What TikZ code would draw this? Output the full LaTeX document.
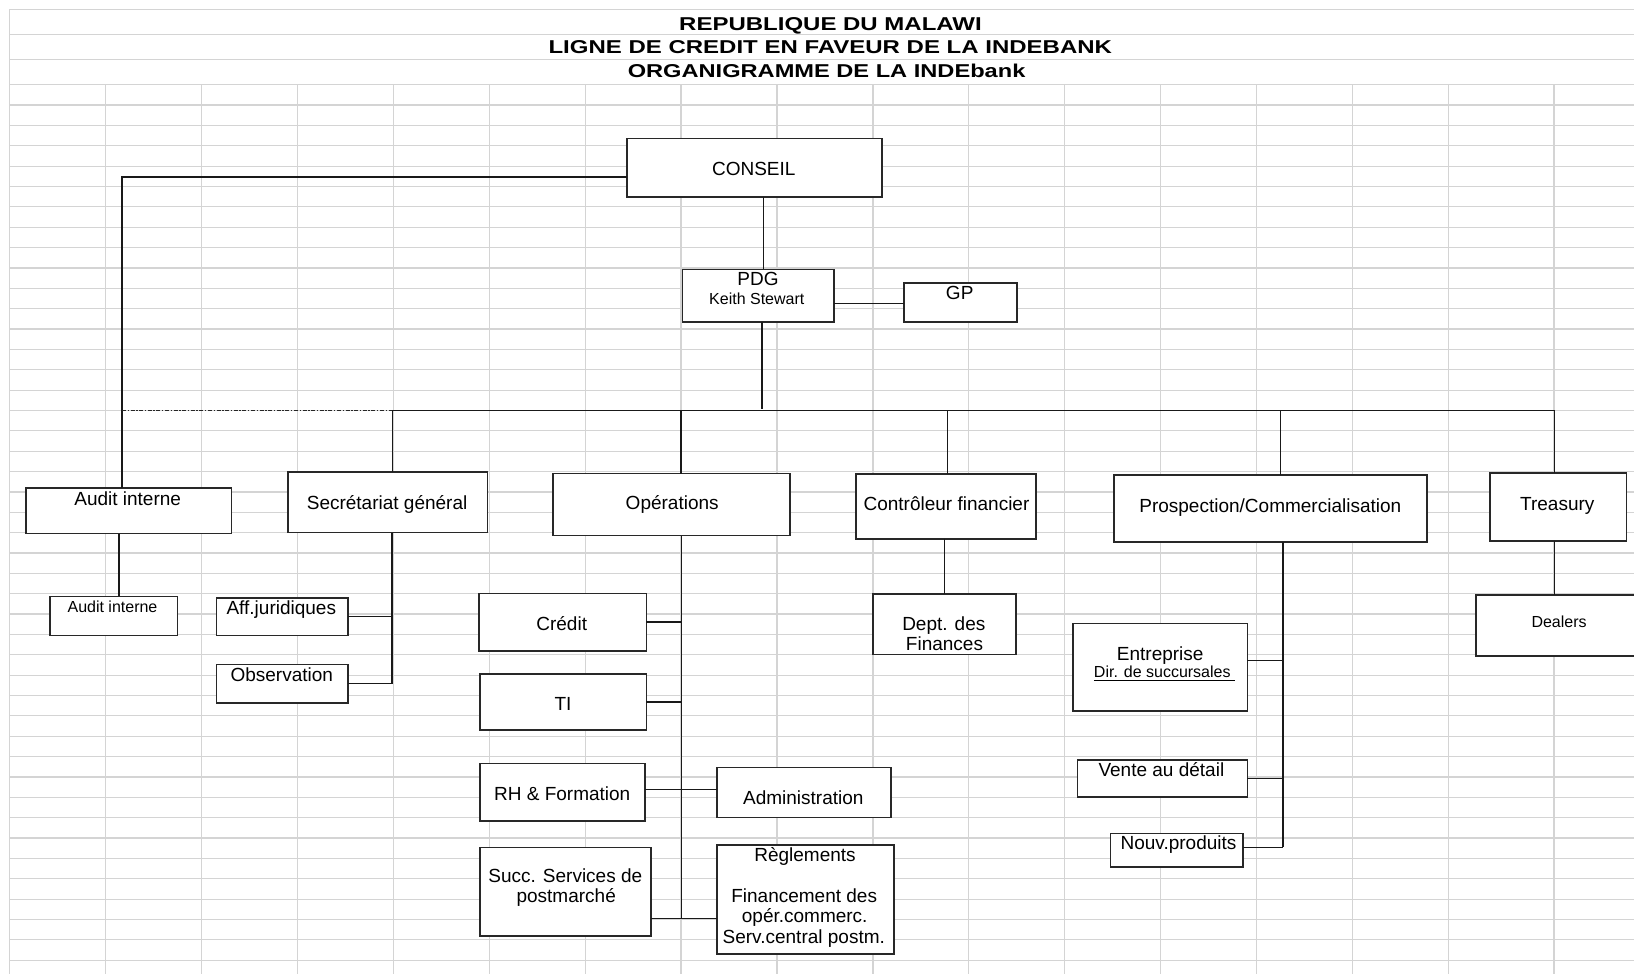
\documentclass[tikz,border=0pt]{standalone}
\usepackage{fontspec}
\usepackage{graphicx}
\setmainfont{Liberation Sans}
\definecolor{gridc}{RGB}{212,212,212}
\definecolor{boxc}{RGB}{40,40,40}
\newcommand\obx[5]{\node[obox, anchor=north west, minimum width={(#4-(#2))*0.5pt}, minimum height={(#5-(#3))*0.5pt}] (#1) at (#2,#3) {};}
\begin{document}
\begin{tikzpicture}[x=0.5pt,y=-0.5pt,
  gridline/.style={draw=gridc, line width=0.6pt},
  obox/.style={rectangle, draw=boxc, fill=white, line width=0.8pt, inner sep=0pt, outer sep=0pt},
  conn/.style={draw=black!90, line width=0.7pt},
  dashdotline/.style={draw=black!85, line width=0.65pt, dash pattern=on 2pt off 0.8pt on 0.7pt off 0.8pt},
  t/.style={inner sep=0pt, anchor=base, font=\fontsize{9.5}{11}\selectfont},
  ts/.style={inner sep=0pt, anchor=base, font=\fontsize{8}{9.5}\selectfont},
  ttl/.style={inner sep=0pt, anchor=base, font=\fontsize{9.3}{11}\selectfont\bfseries},
]
\useasboundingbox (0,0) rectangle (1634,974);
\fill[white] (0,0) rectangle (1634,974);
% ---- spreadsheet grid ----
\draw[gridline] (9.3,9.3) -- (1634,9.3);
\draw[gridline] (9.3,34.3) -- (1634,34.3);
\draw[gridline] (9.3,59.5) -- (1634,59.5);
\draw[gridline] (9.3,9.3) -- (9.3,974);
\foreach \k in {0,...,43} {\draw[gridline] (9.3,{84.7+\k*20.36}) -- (1634,{84.7+\k*20.36});}
\foreach \j in {0,...,14} {\draw[gridline] ({105.5+\j*95.93},84.7) -- ({105.5+\j*95.93},974);}
\draw[gridline] (1554,84.7) -- (1554,974);
% ---- title ----
\node[ttl] (title1) at (830.5,30.2) {\scalebox{1.29}[1]{REPUBLIQUE DU MALAWI}};
\node[ttl] (title2) at (830.3,53.2) {\scalebox{1.29}[1]{LIGNE DE CREDIT EN FAVEUR DE LA INDEBANK}};
\node[ttl] (title3) at (826.6,77.8) {\scalebox{1.27}[1]{ORGANIGRAMME DE LA INDEbank}};
% ---- boxes ----
\obx{conseil}{626.7}{138.7}{881.7}{197.3}
\obx{pdg}{682.3}{269.3}{833.7}{321.7}
\obx{gp}{903.7}{282.7}{1016.7}{321.7}
\obx{audit}{26.1}{487.9}{231.4}{533.6}
\obx{auditc}{50}{596.4}{177.5}{635.4}
\obx{sec}{288.2}{472.1}{487.5}{532.5}
\obx{aff}{216.4}{597.9}{348.2}{635.4}
\obx{obs}{216.4}{664.3}{348.2}{702.9}
\obx{ops}{553}{473.5}{790}{535.5}
\obx{credit}{478.7}{593.3}{646.3}{650.7}
\obx{ti}{480}{673.7}{646.3}{730}
\obx{rh}{480}{763.3}{645}{821}
\obx{admin}{716.7}{767.3}{890.7}{817.3}
\obx{succ}{480}{847.3}{651}{936}
\obx{regl}{716.7}{845}{894}{954}
\obx{ctrl}{856}{473.7}{1036}{538.7}
\obx{dept}{872.7}{593.7}{1016}{654.3}
\obx{prosp}{1113.7}{475}{1426.9}{542}
\obx{entr}{1073.1}{623.3}{1247.4}{711}
\obx{vente}{1077.6}{760}{1247.4}{797}
\obx{nouv}{1110.3}{833.3}{1242.9}{866.7}
\obx{treas}{1489.8}{472.7}{1626.5}{540.7}
\obx{deal}{1476}{594.7}{1645}{656}
% ---- connectors ----
\coordinate (lc) at (122,177);
\draw[conn] (lc -| conseil.west) -- (lc) -- (lc |- audit.north);
\coordinate (v1) at (763.3,0);
\draw[conn] (v1 |- conseil.south) -- (v1 |- pdg.north);
\coordinate (h1) at (0,303.7);
\draw[conn] (h1 -| pdg.east) -- (h1 -| gp.west);
\coordinate (v2) at (762,408.5);
\draw[conn] (v2 |- pdg.south) -- (v2);
\coordinate (busL) at (122,410.7);
\coordinate (busS) at (392.3,410.7);
\coordinate (busR) at (1554.7,410.7);
\draw[dashdotline] (busL) -- (busS);
\draw[conn] (busS) -- (busR);
\draw[conn] (busS) -- (busS |- sec.north);
\coordinate (bo) at (681,410.7);
\draw[conn] (bo) -- (bo |- ops.north);
\coordinate (bc) at (947.3,410.7);
\draw[conn] (bc) -- (bc |- ctrl.north);
\coordinate (bp) at (1280.2,410.7);
\draw[conn] (bp) -- (bp |- prosp.north);
\draw[conn] (busR) -- (busR |- treas.north);
\draw[conn] (busR |- treas.south) -- (busR |- deal.north);
\coordinate (va) at (118.9,0);
\draw[conn] (va |- audit.south) -- (va |- auditc.north);
\coordinate (vs) at (391.8,0);
\draw[conn] (vs |- sec.south) -- (vs |- obs.east);
\draw[conn] (aff.east) -- (aff.east -| vs);
\draw[conn] (obs.east) -- (obs.east -| vs);
\coordinate (vo) at (681.7,918.3);
\draw[conn] (vo |- ops.south) -- (vo);
\draw[conn] (credit.east) -- (credit.east -| vo);
\draw[conn] (ti.east) -- (ti.east -| vo);
\coordinate (hr) at (0,789.7);
\draw[conn] (hr -| rh.east) -- (hr -| admin.west);
\draw[conn] (vo -| succ.east) -- (vo -| regl.west);
\coordinate (vc) at (944.3,0);
\draw[conn] (vc |- ctrl.south) -- (vc |- dept.north);
\coordinate (vp) at (1283.1,847.3);
\draw[conn] (vp |- prosp.south) -- (vp);
\coordinate (he) at (0,660.3);
\draw[conn] (he -| entr.east) -- (he -| vp);
\draw[conn] (vente.east) -- (vente.east -| vp);
\draw[conn] (vp -| nouv.east) -- (vp);
% ---- texts ----
\node[t] (t-conseil) at (753.8,176) {CONSEIL};
\node[t] (t-pdg) at (758,285.7) {PDG};
\node[ts] (t-keith) at (756.8,304) {Keith Stewart};
\node[t] (t-gp) at (959.7,299) {GP};
\node[t] (t-audit) at (127.7,505) {Audit interne};
\node[ts] (t-auditc) at (112.5,612.9) {Audit interne};
\node[t] (t-sec) at (387.1,509.3) {Secrétariat général};
\node[t] (t-aff) at (281.3,614.6) {Aff.juridiques};
\node[t] (t-obs) at (281.8,681.8) {Observation};
\node[t] (t-ops) at (672.2,509.5) {Opérations};
\node[t] (t-credit) at (561.7,630) {Crédit};
\node[t] (t-ti) at (563,710.7) {TI};
\node[t] (t-rh) at (562.2,800.3) {RH \& Formation};
\node[t] (t-admin) at (803.3,804.3) {Administration};
\node[t] (t-succ1) at (565.3,882) {Succ. Services de};
\node[t] (t-succ2) at (566.2,902.3) {postmarché};
\node[t] (t-regl1) at (805,861.3) {Règlements};
\node[t] (t-regl2) at (804.2,902.3) {Financement des};
\node[t] (t-regl3) at (804.7,922.7) {opér.commerc.};
\node[t] (t-regl4) at (803.8,943.3) {Serv.central postm.};
\node[t] (t-ctrl) at (946.5,510.3) {Contrôleur financier};
\node[t] (t-dept1) at (943.8,630.3) {Dept. des};
\node[t] (t-dept2) at (944.5,650.7) {Finances};
\node[t] (t-prosp) at (1270.3,512) {Prospection/Commercialisation};
\node[t] (t-treas) at (1557.3,510) {Treasury};
\node[ts] (t-deal) at (1559.1,627) {Dealers};
\node[t] (t-entr1) at (1160.2,660) {Entreprise};
\node[ts] (t-entr2) at (1164.5,677.3) {\underline{Dir. de succursales~}};
\node[t] (t-vente) at (1161.4,776.7) {Vente au détail};
\node[t] (t-nouv) at (1178.5,849.3) {Nouv.produits};
\end{tikzpicture}
\end{document}
